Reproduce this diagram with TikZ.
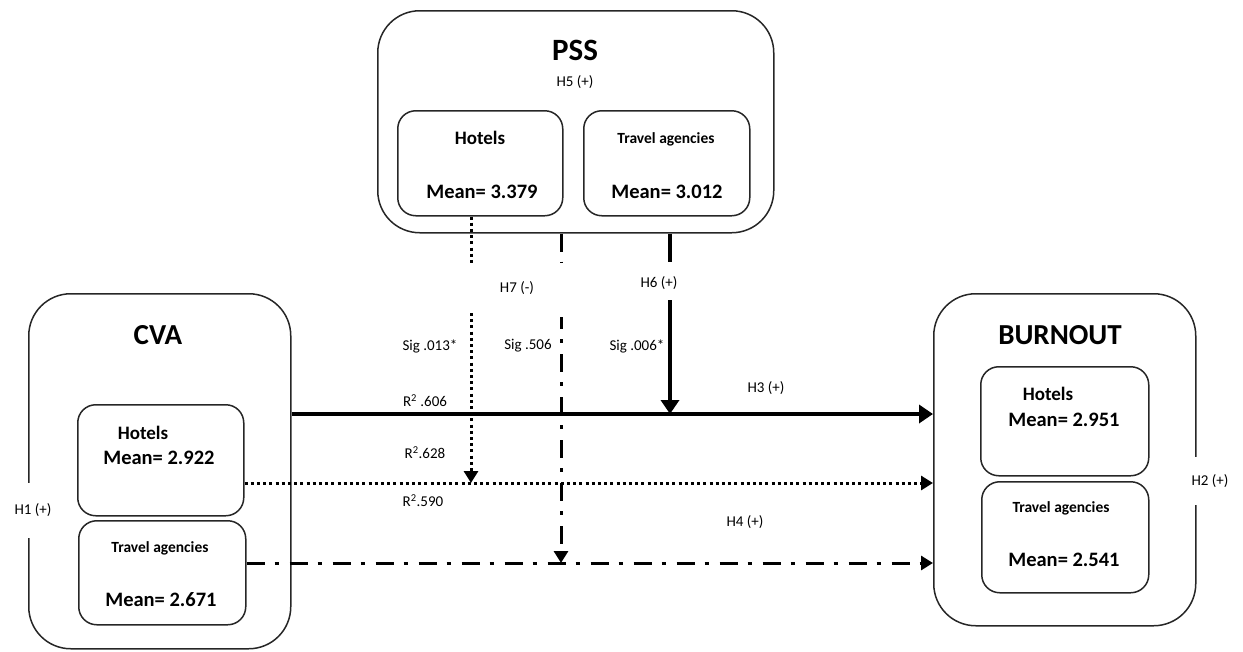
\documentclass[tikz,border=0pt]{standalone}
\usepackage{fontspec}
\setmainfont{Carlito}
\usetikzlibrary{arrows.meta}
\begin{document}
\begin{tikzpicture}[x=1pt,y=-1pt,
  outerbox/.style={draw=black!85, line width=1.5pt, rounded corners=42pt, anchor=north west, inner sep=0pt},
  innerbox/.style={draw=black!85, line width=1.5pt, rounded corners=18pt, anchor=north west, inner sep=0pt},
  ttl/.style={font=\bfseries\fontsize{29}{32}\selectfont},
  boxtxt/.style={font=\bfseries\fontsize{20.5}{24}\selectfont},
  smalltxt/.style={font=\bfseries\fontsize{15.5}{18}\selectfont},
  lbl/.style={font=\fontsize{15}{18}\selectfont},
  solidarrow/.style={line width=3.5pt, -{Triangle[length=14pt,width=18pt]}},
  solidline/.style={line width=3.5pt},
  dotline/.style={line width=3pt, dash pattern=on 3pt off 3.2pt},
  dotarrow/.style={dotline, -{Triangle[length=12pt,width=14pt]}},
  dashdotline/.style={line width=3pt, dash pattern=on 18pt off 10pt on 4pt off 11pt},
  dashdotarrow/.style={dashdotline, -{Triangle[length=12pt,width=14pt]}}
]
\useasboundingbox (0,0) rectangle (1243,651);

% PSS
\node[outerbox, minimum width=396pt, minimum height=222pt] (pss) at (377,10) {};
\node[ttl, font=\bfseries\fontsize{31}{34}\selectfont] (psst) at (575,50) {PSS};
\node[lbl] (h5) at (575,82) {H5 (+)};
\node[innerbox, minimum width=165pt, minimum height=105pt] (psshot) at (397,110) {};
\node[boxtxt, font=\bfseries\fontsize{19}{22}\selectfont] (psshott) at (480,138) {Hotels};
\node[boxtxt] (psshotm) at (482,192) {Mean= 3.379};
\node[innerbox, minimum width=166pt, minimum height=105pt] (psstra) at (583,110) {};
\node[smalltxt] (psstrat) at (666,139) {Travel agencies};
\node[boxtxt] (psstram) at (667,192) {Mean= 3.012};

% CVA
\node[outerbox, minimum width=262pt, minimum height=355pt] (cva) at (28,293) {};
\node[ttl] (cvat) at (158,335) {CVA};
\node[innerbox, minimum width=166pt, minimum height=111pt] (cvahot) at (77,404) {};
\node[boxtxt, font=\bfseries\fontsize{19}{22}\selectfont] (cvahott) at (143,433) {Hotels};
\node[boxtxt] (cvahotm) at (159,458) {Mean= 2.922};
\node[innerbox, minimum width=167pt, minimum height=104pt] (cvatra) at (78,520) {};
\node[smalltxt] (cvatrat) at (160,548) {Travel agencies};
\node[boxtxt] (cvatram) at (161,600) {Mean= 2.671};
\node[lbl, fill=white, minimum height=55pt, inner xsep=1pt] (h1) at (33,510) {H1 (+)};

% BURNOUT
\node[outerbox, minimum width=262pt, minimum height=332pt] (bur) at (933,293) {};
\node[ttl] (burt) at (1060,335) {BURNOUT};
\node[innerbox, minimum width=168pt, minimum height=109pt] (burhot) at (980,366) {};
\node[boxtxt, font=\bfseries\fontsize{19}{22}\selectfont] (burhott) at (1048,394) {Hotels};
\node[boxtxt] (burhotm) at (1064,420) {Mean= 2.951};
\node[innerbox, minimum width=167pt, minimum height=111pt] (burtra) at (981,481) {};
\node[smalltxt] (burtrat) at (1061,508) {Travel agencies};
\node[boxtxt] (burtram) at (1064,560) {Mean= 2.541};
\node[lbl, fill=white, minimum height=48pt, inner xsep=1pt] (h2) at (1210,481) {H2 (+)};

% helper coordinates
\coordinate (ysolid) at (0,414);
\coordinate (ydot) at (0,483);
\coordinate (ydd) at (0,563);
\coordinate (v1a) at (471,264);
\coordinate (v1b) at (471,313);
\coordinate (v2a) at (561,262);
\coordinate (v2b) at (561,317);
\coordinate (v3a) at (670,262);
\coordinate (v3b) at (670,300);

% horizontal paths
\draw[solidarrow] (cva.east |- ysolid) -- (bur.west |- ysolid);
\draw[dotarrow] (cvahot.east |- ydot) -- (bur.west |- ydot);
\draw[dashdotarrow] (cvatra.east |- ydd) -- (bur.west |- ydd);

% vertical paths
\draw[dotline] (psshot.south -| v1a) -- (v1a);
\draw[dotarrow] (v1b) -- (v1b |- ydot);
\draw[dashdotline] (pss.south -| v2a) -- (v2a);
\draw[dashdotarrow, dash phase=6pt] (v2b) -- (v2b |- ydd);
\draw[solidline] (pss.south -| v3a) -- (v3a);
\draw[solidarrow] (v3b) -- (v3b |- ysolid);

% labels
\node[lbl] (h7) at (517,288) {H7 (-)};
\node[lbl] (h6) at (659,283) {H6 (+)};
\node[lbl] (sig1) at (430,346) {Sig .013*};
\node[lbl] (sig2) at (528,346) {Sig .506};
\node[lbl] (sig3) at (637,346) {Sig .006*};
\node[lbl] (r1) at (425,401) {R\textsuperscript{2} .606};
\node[lbl] (r2) at (425,453) {R\textsuperscript{2}.628};
\node[lbl] (r3) at (423,501) {R\textsuperscript{2}.590};
\node[lbl] (h3) at (766,388) {H3 (+)};
\node[lbl] (h4) at (745,522) {H4 (+)};
\end{tikzpicture}
\end{document}
